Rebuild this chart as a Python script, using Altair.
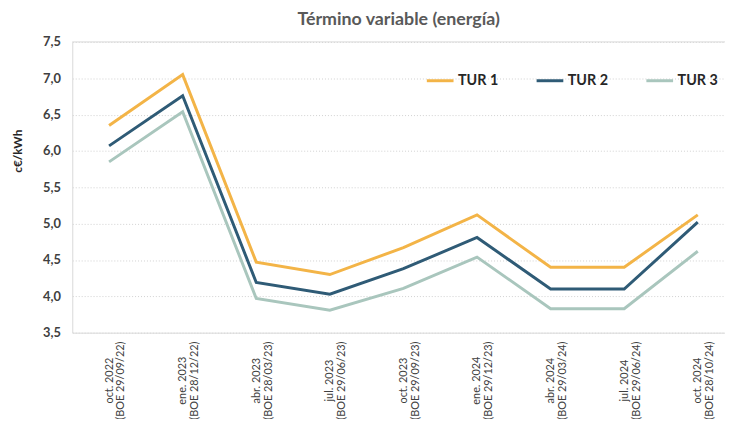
import altair as alt
import pandas as pd

meses = ["oct. 2022", "ene. 2023", "abr. 2023", "jul. 2023", "oct. 2023",
         "ene. 2024", "abr. 2024", "jul. 2024", "oct. 2024"]
boe = ["(BOE 29/09/22)", "(BOE 28/12/22)", "(BOE 28/03/23)", "(BOE 29/06/23)",
       "(BOE 29/09/23)", "(BOE 29/12/23)", "(BOE 29/03/24)", "(BOE 29/06/24)",
       "(BOE 28/10/24)"]
tur1 = [6.35, 7.05, 4.47, 4.30, 4.67, 5.12, 4.40, 4.40, 5.12]
tur2 = [6.07, 6.76, 4.19, 4.03, 4.38, 4.81, 4.10, 4.10, 5.02]
tur3 = [5.85, 6.54, 3.97, 3.81, 4.11, 4.54, 3.83, 3.83, 4.62]
series = ["TUR 1", "TUR 2", "TUR 3"]
colors = ["#F3B447", "#2F5B76", "#A9C6BD"]
y_ticks = [3.5, 4.0, 4.5, 5.0, 5.5, 6.0, 6.5, 7.0, 7.5]

rows = []
for name, vals in zip(series, [tur1, tur2, tur3]):
    for i, v in enumerate(vals):
        rows.append({"idx": i, "serie": name, "valor": v})
df = pd.DataFrame(rows)

label_arr = "[" + ",".join("['%s','%s']" % (m, b) for m, b in zip(meses, boe)) + "]"

FONT = "Lato"

y_scale = alt.Scale(domain=[3.5, 7.5], nice=False, zero=False)
y_axis = alt.Axis(values=y_ticks,
                  labelExpr="replace(format(datum.value, '.1f'), '.', ',')",
                  ticks=False, labelPadding=12, labelFontSize=13, labelFontWeight="bold",
                  labelColor="#404040", labelFont=FONT, labelOverlap=False,
                  grid=True, gridColor="#d0d0d0", gridDash=[1, 2],
                  domainColor="#d9d9d9",
                  title="c€/kWh", titleFont=FONT, titleFontSize=12, titleFontWeight="bold",
                  titleColor="#262626", titleX=-55, titleY=110, titleAngle=270,
                  titleAlign="center", titleBaseline="middle")

lines = alt.Chart(df).mark_line(strokeWidth=3, clip=True).encode(
    x=alt.X("idx:Q",
            scale=alt.Scale(domain=[-0.5, 8.37], nice=False, zero=False),
            axis=alt.Axis(values=list(range(len(meses))), labelExpr=label_arr + "[datum.value]",
                          labelAngle=270, labelAlign="center", labelBaseline="middle",
                          ticks=False, grid=False, labelPadding=48,
                          labelFontSize=11, labelColor="#404040", labelFont=FONT,
                          labelOverlap=False, labelFlush=False, labelLineHeight=12,
                          domainColor="#d9d9d9", title=None)),
    y=alt.Y("valor:Q", scale=y_scale, axis=y_axis),
    color=alt.Color("serie:N",
                    scale=alt.Scale(domain=series, range=colors),
                    legend=alt.Legend(orient="none", legendX=357, legendY=24, direction="horizontal",
                                      title=None, symbolType="stroke", symbolSize=729,
                                      symbolStrokeWidth=3, labelFontSize=14.5, labelFontWeight="bold",
                                      labelColor="#262626", labelFont=FONT, labelOffset=3,
                                      columnPadding=32)),
)

top = alt.Chart(pd.DataFrame({"valor": [y_ticks[-1]]})).mark_rule(color="#d9d9d9", strokeWidth=1).encode(
    y=alt.Y("valor:Q", scale=y_scale, axis=y_axis)
)

chart = alt.layer(lines, top).properties(
    width=660, height=294,
    title=alt.Title("Término variable (energía)", font=FONT, fontSize=18, fontWeight="bold",
                    color="#595959", anchor="middle", baseline="alphabetic", offset=13, dx=0, dy=20),
    autosize=alt.AutoSizeParams(type="none"),
    padding={"left": 65, "top": 32, "right": 0, "bottom": 85},
).configure_view(stroke=None)

chart.save("out.html", embed_options={"renderer": "svg", "actions": False})
